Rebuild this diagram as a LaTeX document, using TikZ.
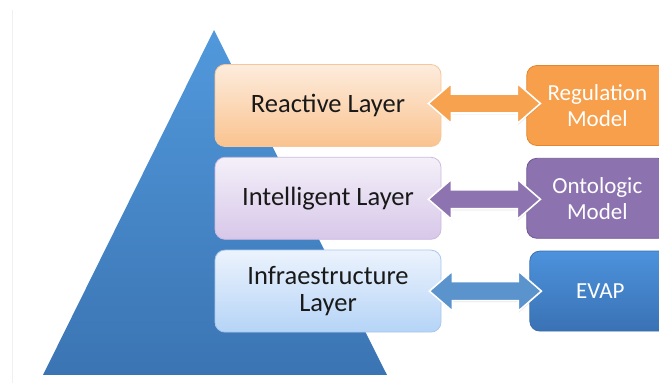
\documentclass[tikz,border=0pt]{standalone}
\usepackage{fontspec}
\setmainfont{Carlito}
\usetikzlibrary{positioning, calc, shadows}

\definecolor{pyrtop}{HTML}{5199DC}
\definecolor{pyrbot}{HTML}{3B74B3}
\definecolor{reacttop}{HTML}{FDECDD}
\definecolor{reactbot}{HTML}{FAC38F}
\definecolor{reactline}{HTML}{F6C79A}
\definecolor{inteltop}{HTML}{F4F0F9}
\definecolor{intelbot}{HTML}{D7C7E9}
\definecolor{intelline}{HTML}{CBBBDF}
\definecolor{infratop}{HTML}{ECF3FD}
\definecolor{infrabot}{HTML}{B5D4F7}
\definecolor{infraline}{HTML}{A8C7EC}
\definecolor{regfill}{HTML}{F79F4A}
\definecolor{regline}{HTML}{E2862F}
\definecolor{ontofill}{HTML}{8C73B0}
\definecolor{ontoline}{HTML}{705893}
\definecolor{evaptop}{HTML}{4C92DC}
\definecolor{evapbot}{HTML}{3A72B4}
\definecolor{evapline}{HTML}{3A6FAC}
\definecolor{arrorange}{HTML}{F7A24E}
\definecolor{arrpurple}{HTML}{8D74B1}
\definecolor{arrblue}{HTML}{5B93CC}

\begin{document}
\begin{tikzpicture}[x=1pt,y=1pt,
  layer/.style={draw,rounded corners=10pt,line width=0.8pt,
    minimum width=226pt,minimum height=82pt,align=center,
    text=black!90,font=\fontsize{26.5}{27}\selectfont},
  model/.style={draw,rounded corners=10pt,line width=0.8pt,
    minimum width=141pt,minimum height=80pt,align=center,text=white,
    font=\fontsize{23}{26}\selectfont},
  fatarrow/.style={draw=white,line width=1.6pt,line join=miter,
    drop shadow={opacity=0.2,shadow xshift=0.5pt,shadow yshift=-1.5pt},
    to path={let \p1=(\tikztostart), \p2=(\tikztotarget) in
      -- (\x1+23,\y1+20) -- (\x1+23,\y1+9.5) -- (\x2-23,\y1+9.5)
      -- (\x2-23,\y1+20) -- (\x2,\y1) -- (\x2-23,\y1-20)
      -- (\x2-23,\y1-9.5) -- (\x1+23,\y1-9.5) -- (\x1+23,\y1-20) -- cycle}}]
  \clip (0,0) rectangle (659,383);
  \draw[gray!12] (12,0) -- (12,373);
  % pyramid
  \shade[top color=pyrtop,bottom color=pyrbot] (214,353) -- (387,8) -- (43,8) -- cycle;
  % layers
  \node[layer,top color=reacttop,bottom color=reactbot,draw=reactline] (reactive) at (328,277.5) {Reactive Layer};
  \node[layer,top color=inteltop,bottom color=intelbot,draw=intelline] (intelligent) [below=10pt of reactive] {Intelligent Layer};
  \node[layer,top color=infratop,bottom color=infrabot,draw=infraline] (infra) [below=10pt of intelligent] {Infraestructure\\Layer};
  % models
  \node[model,fill=regfill,draw=regline] (regulation) [right=85pt of reactive] {Regulation\\Model};
  \node[model,fill=ontofill,draw=ontoline] (ontologic) [right=85pt of intelligent] {Ontologic\\Model};
  \node[model,top color=evaptop,bottom color=evapbot,draw=evapline] (evap) [right=88pt of infra] {EVAP};
  % links
  \draw[fatarrow,fill=arrorange] ([xshift=-13pt,yshift=2pt]reactive.east) to ([xshift=14pt,yshift=2pt]regulation.west);
  \draw[fatarrow,fill=arrpurple] ([xshift=-13pt,yshift=-1pt]intelligent.east) to ([xshift=14pt,yshift=-1pt]ontologic.west);
  \draw[fatarrow,fill=arrblue] ([xshift=-12pt]infra.east) to ([xshift=12pt]evap.west);
\end{tikzpicture}
\end{document}
